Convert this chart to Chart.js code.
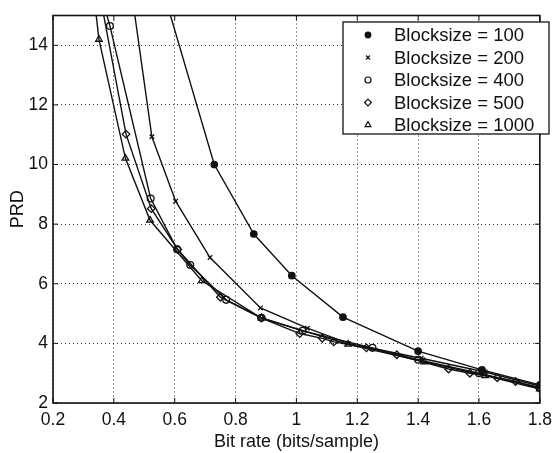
<!DOCTYPE html>
<html>
<head>
<meta charset="utf-8">
<script src="https://cdn.jsdelivr.net/npm/chart.js@4.4.1/dist/chart.umd.min.js"></script>
<style>
html, body { margin: 0; padding: 0; background: #fff; }
</style>
</head>
<body>
<canvas id="c" width="559" height="453"></canvas>
<script>
/* data: bit rate (bits/sample) vs PRD */
var rate100 = [0.563, 0.73, 0.86, 0.985, 1.153, 1.40, 1.61, 1.80];
var prd100  = [15.8, 10.0, 7.67, 6.27, 4.88, 3.74, 3.11, 2.61];

var rate200 = [0.458, 0.525, 0.603, 0.716, 0.882, 1.036, 1.171, 1.41, 1.62, 1.80];
var prd200  = [15.8, 10.93, 8.77, 6.88, 5.19, 4.51, 4.00, 3.50, 3.04, 2.57];

var rate400 = [0.355, 0.387, 0.521, 0.608, 0.651, 0.769, 0.885, 1.02, 1.25, 1.40, 1.60, 1.80];
var prd400  = [15.8, 14.65, 8.86, 7.16, 6.63, 5.46, 4.86, 4.42, 3.85, 3.45, 3.00, 2.52];

var rate500 = [0.352, 0.440, 0.523, 0.61, 0.750, 0.885, 1.011, 1.085, 1.123, 1.23, 1.33, 1.50, 1.57, 1.66, 1.72, 1.80];
var prd500  = [15.8, 11.02, 8.52, 7.15, 5.55, 4.85, 4.33, 4.17, 4.05, 3.85, 3.62, 3.14, 3.00, 2.85, 2.72, 2.48];

var rate1000 = [0.333, 0.351, 0.438, 0.519, 0.689, 0.885, 1.17, 1.42, 1.62, 1.80];
var prd1000  = [15.8, 14.2, 10.21, 8.13, 6.10, 4.85, 3.97, 3.38, 2.92, 2.47];

var seriesNames = ['Blocksize = 100', 'Blocksize = 200', 'Blocksize = 400', 'Blocksize = 500', 'Blocksize = 1000'];
var xTicks = [0.2, 0.4, 0.6, 0.8, 1, 1.2, 1.4, 1.6, 1.8];
var yTicks = [2, 4, 6, 8, 10, 12, 14];

var FONT = '"Liberation Sans", Arial, Helvetica, sans-serif';
var INK = '#111';

function pts(xs, ys) {
  return xs.map(function (x, i) { return {x: x, y: ys[i]}; });
}

// marker look for each series (matlab style: . x o d ^)
var markers = [
  {style: 'circle', r: 3.2, fill: INK},
  {style: 'crossRot', r: 3.2, fill: 'rgba(0,0,0,0)'},
  {style: 'circle', r: 3.4, fill: 'rgba(0,0,0,0)'},
  {style: 'rectRot', r: 3.8, fill: 'rgba(0,0,0,0)'},
  {style: 'triangle', r: 3.8, fill: 'rgba(0,0,0,0)'}
];

var allData = [pts(rate100, prd100), pts(rate200, prd200), pts(rate400, prd400), pts(rate500, prd500), pts(rate1000, prd1000)];

var datasets = allData.map(function (d, i) {
  return {
    label: seriesNames[i],
    data: d,
    borderColor: INK,
    borderWidth: 1.4,
    pointStyle: markers[i].style,
    pointRadius: markers[i].r,
    pointBorderWidth: 1.3,
    pointBorderColor: INK,
    pointBackgroundColor: markers[i].fill,
    tension: 0
  };
});

// box, inward ticks and the legend drawn inside the axes
var matlabBox = {
  id: 'matlabBox',
  afterDatasetsDraw: function (chart) {
    var ctx = chart.ctx;
    var a = chart.chartArea;
    var xs = chart.scales.x, ys = chart.scales.y;
    ctx.save();
    ctx.strokeStyle = INK;
    ctx.lineWidth = 1.6;
    ctx.strokeRect(a.left, a.top, a.right - a.left, a.bottom - a.top);

    ctx.lineWidth = 1;
    ctx.beginPath();
    xTicks.forEach(function (t) {
      var px = xs.getPixelForValue(t);
      ctx.moveTo(px, a.bottom); ctx.lineTo(px, a.bottom - 5);
      ctx.moveTo(px, a.top); ctx.lineTo(px, a.top + 5);
    });
    yTicks.forEach(function (t) {
      var py = ys.getPixelForValue(t);
      ctx.moveTo(a.left, py); ctx.lineTo(a.left + 5, py);
      ctx.moveTo(a.right, py); ctx.lineTo(a.right - 5, py);
    });
    ctx.stroke();

    // legend
    var lx = 343, ly = 22, lw = 206, lh = 112;
    ctx.fillStyle = '#fff';
    ctx.fillRect(lx, ly, lw, lh);
    ctx.lineWidth = 1.3;
    ctx.strokeRect(lx, ly, lw, lh);
    ctx.font = '18.5px ' + FONT;
    ctx.textBaseline = 'middle';
    ctx.textAlign = 'left';
    seriesNames.forEach(function (name, i) {
      var yy = ly + 13 + i * 22.5;
      ctx.strokeStyle = INK;
      ctx.fillStyle = markers[i].fill;
      ctx.lineWidth = 1.2;
      Chart.helpers.drawPoint(ctx, {pointStyle: markers[i].style, radius: markers[i].r - 0.4, rotation: 0, borderWidth: 1.2}, 368, yy);
      ctx.fillStyle = INK;
      ctx.fillText(name, 394, yy + 1);
    });
    ctx.restore();
  }
};

function fmt(v) {
  return String(Math.round(v * 10) / 10);
}

var chart = new Chart(document.getElementById('c'), {
  type: 'line',
  data: {datasets: datasets},
  options: {
    responsive: false,
    animation: false,
    devicePixelRatio: 1,
    layout: {padding: {top: 13, right: 8, left: 0, bottom: 0}},
    plugins: {
      legend: {display: false},
      tooltip: {enabled: false}
    },
    scales: {
      x: {
        type: 'linear',
        min: 0.2,
        max: 1.8,
        afterFit: function (s) { s.height = 50; },
        ticks: {
          stepSize: 0.2,
          padding: 7,
          color: INK,
          font: {family: FONT, size: 17.5},
          maxRotation: 0,
          callback: function (v) { return fmt(v); }
        },
        grid: {
          color: 'rgba(0,0,0,0.8)',
          lineWidth: 1,
          drawTicks: false
        },
        border: {display: false, dash: [1, 3]},
        title: {
          display: true,
          text: 'Bit rate (bits/sample)',
          color: INK,
          font: {family: FONT, size: 18},
          padding: {top: 0, bottom: 0}
        }
      },
      y: {
        type: 'linear',
        min: 2,
        max: 15,
        afterFit: function (s) { s.width = 53; },
        ticks: {
          stepSize: 2,
          includeBounds: false,
          padding: 5,
          color: INK,
          font: {family: FONT, size: 17.5},
          callback: function (v) { return fmt(v); }
        },
        grid: {
          color: 'rgba(0,0,0,0.8)',
          lineWidth: 1,
          drawTicks: false
        },
        border: {display: false, dash: [1, 3]},
        title: {
          display: true,
          text: 'PRD',
          color: INK,
          font: {family: FONT, size: 18},
          padding: {top: 7, bottom: 0}
        }
      }
    }
  },
  plugins: [matlabBox]
});
</script>
</body>
</html>
